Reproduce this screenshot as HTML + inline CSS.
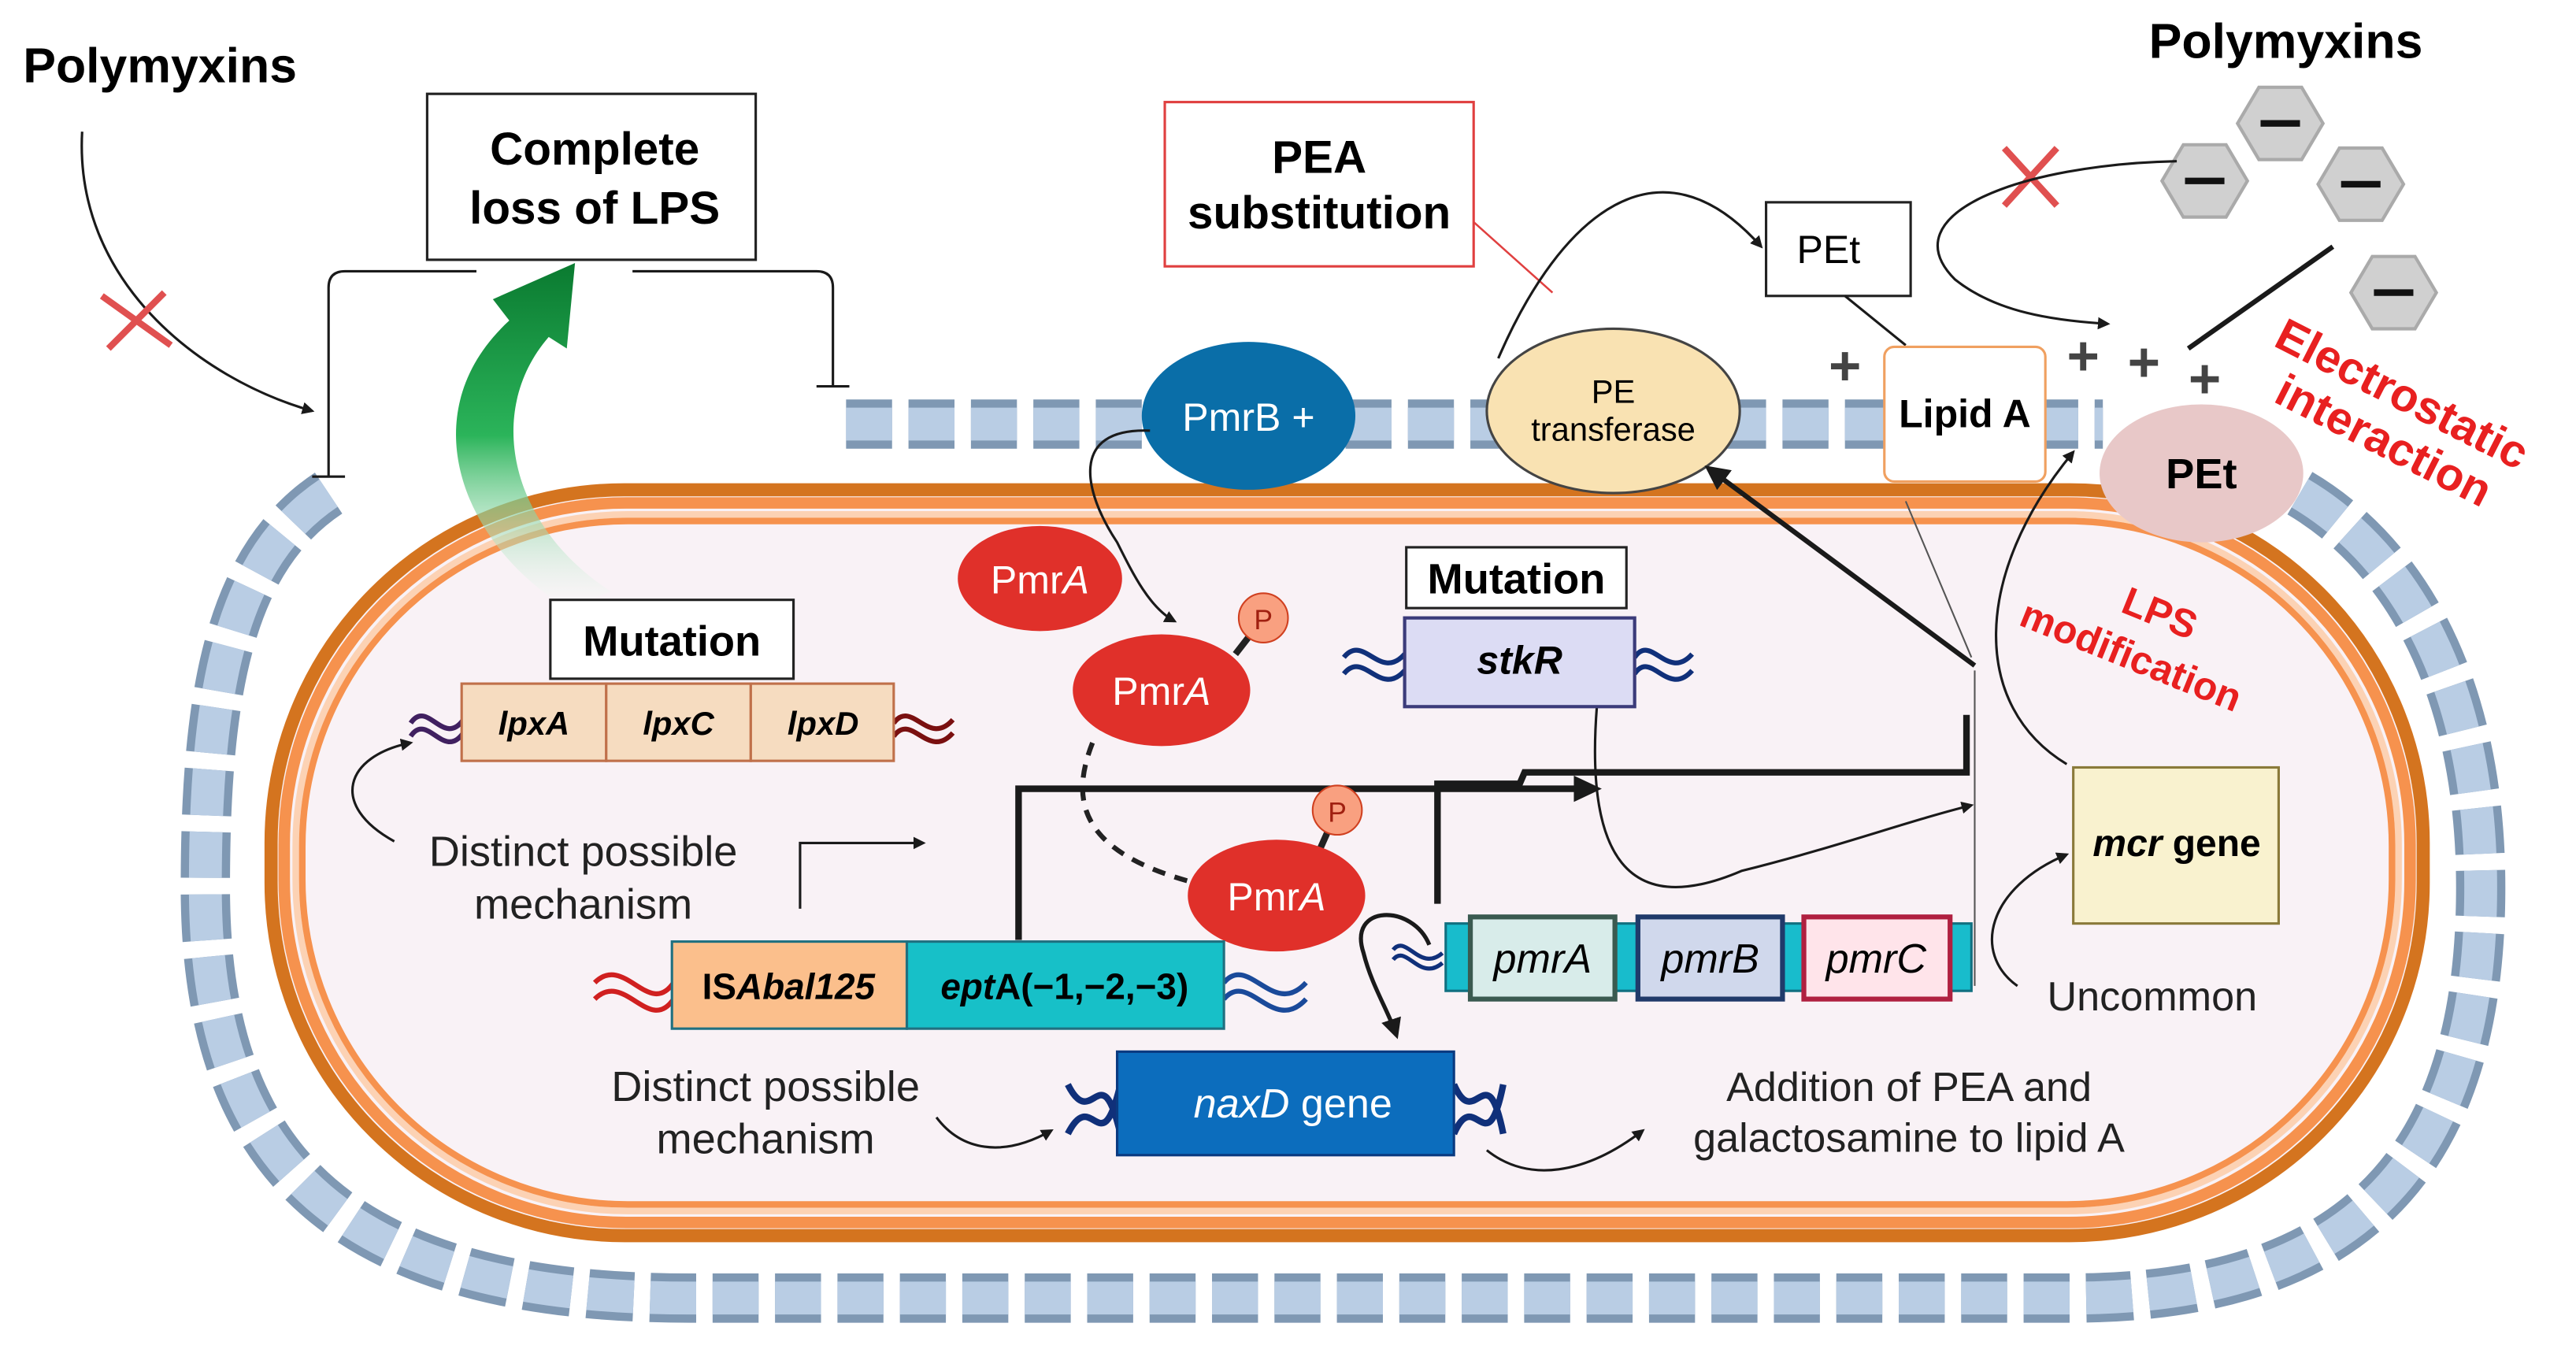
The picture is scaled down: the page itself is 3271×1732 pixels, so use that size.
<!DOCTYPE html>
<html><head><meta charset="utf-8"><style>
html,body{margin:0;padding:0;background:#fff;}
svg{display:block;}
text{font-family:"Liberation Sans",sans-serif;}
</style></head><body>
<svg width="3271" height="1732" viewBox="0 0 1568 830" xmlns="http://www.w3.org/2000/svg">
<defs>
<marker id="ah" viewBox="0 0 10 10" refX="8" refY="5" markerWidth="5" markerHeight="5" orient="auto-start-reverse"><path d="M0,0 L10,5 L0,10 z" fill="#1a1a1a"/></marker>
<linearGradient id="gg" x1="0" y1="1" x2="0" y2="0"><stop offset="0" stop-color="#fff" stop-opacity="0.2"/><stop offset="0.5" stop-color="#2bb45a"/><stop offset="1" stop-color="#0a7a30"/></linearGradient>
</defs>
<rect width="1568" height="830" fill="#fff"/>

<path d="M200,300 C140,340 125,420 125,540 C125,700 200,790 420,790 L1260,790 C1440,790 1510,700 1510,540 C1510,400 1450,320 1380,290" fill="none" stroke="#7f98b3" stroke-width="30" stroke-dasharray="28 10"/>
<path d="M200,300 C140,340 125,420 125,540 C125,700 200,790 420,790 L1260,790 C1440,790 1510,700 1510,540 C1510,400 1450,320 1380,290" fill="none" stroke="#b9cde4" stroke-width="20" stroke-dasharray="28 10"/>
<path d="M515,258 L1280,258" stroke="#7f98b3" stroke-width="30" stroke-dasharray="28 10"/>
<path d="M515,258 L1280,258" stroke="#b9cde4" stroke-width="20" stroke-dasharray="28 10"/>

<rect x="165" y="298" width="1310" height="454" rx="215" fill="#f9f2f6" stroke="#d4741f" stroke-width="8"/>
<rect x="173" y="306" width="1294" height="438" rx="208" fill="none" stroke="#f6924e" stroke-width="7"/>
<rect x="180" y="313" width="1280" height="424" rx="202" fill="none" stroke="#fcd2b4" stroke-width="4"/>
<rect x="184" y="317" width="1272" height="416" rx="198" fill="#f9f2f6" stroke="#f6924e" stroke-width="4"/>

<text x="14" y="50" font-size="30" font-weight="bold">Polymyxins</text>
<path d="M50,80 C45,170 120,230 190,250" fill="none" stroke="#1a1a1a" stroke-width="1.5" marker-end="url(#ah)"/>
<path d="M62,180 L104,210 M66,212 L100,178" stroke="#e05050" stroke-width="4"/>

<rect x="260" y="57" width="200" height="101" fill="#fff" stroke="#222" stroke-width="1.5"/>
<text x="362" y="100" font-size="28" font-weight="bold" text-anchor="middle">Complete</text>
<text x="362" y="136" font-size="28" font-weight="bold" text-anchor="middle">loss of LPS</text>
<path d="M200,290 L200,175 Q200,165 210,165 L290,165 M385,165 L497,165 Q507,165 507,175 L507,235" fill="none" stroke="#1a1a1a" stroke-width="1.5"/>
<path d="M190,290 L210,290 M497,235 L517,235" stroke="#1a1a1a" stroke-width="1.5"/>

<path d="M345,370 C280,330 250,250 310,195 L300,182 L350,160 L345,212 L334,205 C295,250 310,320 372,360 Z" fill="url(#gg)"/>

<rect x="709" y="62" width="188" height="100" fill="#fff" stroke="#e04040" stroke-width="1.5"/>
<text x="803" y="105" font-size="28" font-weight="bold" text-anchor="middle">PEA</text>
<text x="803" y="139" font-size="28" font-weight="bold" text-anchor="middle">substitution</text>
<path d="M897,135 L945,178" stroke="#e04040" stroke-width="1.2"/>
<path d="M912,218 C950,130 1010,80 1072,150" fill="none" stroke="#1a1a1a" stroke-width="1.5" marker-end="url(#ah)"/>
<rect x="1075" y="123" width="88" height="57" fill="#fff" stroke="#222" stroke-width="1.5"/>
<text x="1113" y="160" font-size="24" text-anchor="middle">PEt</text>
<path d="M1123,180 L1160,210" stroke="#1a1a1a" stroke-width="1.5"/>

<ellipse cx="760" cy="253" rx="65" ry="45" fill="#0a6ea8"/>
<text x="760" y="262" font-size="24" fill="#fff" text-anchor="middle">PmrB +</text>
<ellipse cx="982" cy="250" rx="77" ry="50" fill="#f9e2b2" stroke="#444" stroke-width="1.5"/>
<text x="982" y="245" font-size="20" text-anchor="middle">PE</text>
<text x="982" y="268" font-size="20" text-anchor="middle">transferase</text>
<rect x="1147" y="211" width="98" height="82" rx="6" fill="#fff" stroke="#f0a060" stroke-width="1.5"/>
<text x="1196" y="260" font-size="24" font-weight="bold" text-anchor="middle">Lipid A</text>
<ellipse cx="1340" cy="288" rx="62" ry="42" fill="#e8c8c8"/>
<text x="1340" y="297" font-size="26" font-weight="bold" text-anchor="middle">PEt</text>
<g font-size="34" font-weight="bold" fill="#444" text-anchor="middle">
<text x="1123" y="234">+</text><text x="1268" y="228">+</text><text x="1305" y="232">+</text><text x="1342" y="242">+</text></g>

<text x="1308" y="35" font-size="30" font-weight="bold">Polymyxins</text>
<g fill="#d0d0d0" stroke="#aaa" stroke-width="2">
<polygon points="1362,75 1375,53 1401,53 1414,75 1401,97 1375,97"/>
<polygon points="1316,110 1329,88 1355,88 1368,110 1355,132 1329,132"/>
<polygon points="1411,112 1424,90 1450,90 1463,112 1450,134 1424,134"/>
<polygon points="1431,178 1444,156 1470,156 1483,178 1470,200 1444,200"/>
</g>
<g stroke="#111" stroke-width="4"><path d="M1376,75 L1400,75 M1330,110 L1354,110 M1425,112 L1449,112 M1445,178 L1469,178"/></g>
<path d="M1220,90 L1252,125 M1220,125 L1252,90" stroke="#e05050" stroke-width="4"/>
<path d="M1325,98 C1230,100 1150,130 1190,170 C1215,190 1250,195 1283,197" fill="none" stroke="#1a1a1a" stroke-width="1.5" marker-end="url(#ah)"/>
<path d="M1420,150 L1332,212" stroke="#1a1a1a" stroke-width="3"/>
<text transform="translate(1383,210) rotate(27)" font-size="28" font-weight="bold" fill="#e82020">Electrostatic</text>
<text transform="translate(1383,244) rotate(27)" font-size="28" font-weight="bold" fill="#e82020">interaction</text>
<text transform="translate(1290,372) rotate(22)" font-size="24" font-weight="bold" fill="#e82020">LPS</text>
<text transform="translate(1228,380) rotate(22)" font-size="24" font-weight="bold" fill="#e82020">modification</text>

<path d="M700,262 C650,260 660,300 680,330 C690,350 700,370 715,378" fill="none" stroke="#1a1a1a" stroke-width="1.5" marker-end="url(#ah)"/>
<ellipse cx="633" cy="352" rx="50" ry="32" fill="#e0302a"/>
<text x="633" y="361" font-size="24" fill="#fff" text-anchor="middle">Pmr<tspan font-style="italic">A</tspan></text>
<path d="M752,398 L766,380" stroke="#222" stroke-width="4"/>
<circle cx="769" cy="376" r="15" fill="#f9a080" stroke="#d04020"/>
<text x="769" y="383" font-size="17" fill="#a02010" text-anchor="middle">P</text>
<ellipse cx="707" cy="420" rx="54" ry="34" fill="#e0302a"/>
<text x="707" y="429" font-size="24" fill="#fff" text-anchor="middle">Pmr<tspan font-style="italic">A</tspan></text>
<path d="M665,452 C650,490 660,520 730,538" fill="none" stroke="#222" stroke-width="3" stroke-dasharray="8 6"/>

<path d="M620,572 L620,480 L960,480" fill="none" stroke="#1a1a1a" stroke-width="4"/>
<path d="M958,472 L975,480 L958,488 Z" fill="#1a1a1a"/>
<path d="M875,550 L875,477 L925,477 L928,470 L1197,470 L1197,435" fill="none" stroke="#1a1a1a" stroke-width="4"/>
<path d="M1202,405 L1040,285" stroke="#1a1a1a" stroke-width="3" marker-end="url(#ah)"/>
<path d="M1202,408 L1202,600" stroke="#555" stroke-width="1"/>
<path d="M1160,305 L1200,400" stroke="#555" stroke-width="1"/>
<path d="M972,430 C965,520 990,560 1060,530 C1120,515 1160,500 1200,490" fill="none" stroke="#1a1a1a" stroke-width="1.5" marker-end="url(#ah)"/>

<path d="M814,493 L802,520" stroke="#222" stroke-width="4"/>
<circle cx="814" cy="493" r="15" fill="#f9a080" stroke="#d04020"/>
<text x="814" y="500" font-size="17" fill="#a02010" text-anchor="middle">P</text>
<ellipse cx="777" cy="545" rx="54" ry="34" fill="#e0302a"/>
<text x="777" y="554" font-size="24" fill="#fff" text-anchor="middle">Pmr<tspan font-style="italic">A</tspan></text>

<rect x="856" y="333" width="134" height="37" fill="#fff" stroke="#222" stroke-width="1.5"/>
<text x="923" y="361" font-size="26" font-weight="bold" text-anchor="middle">Mutation</text>
<path d="M818,400 C830,385 840,415 855,398 M818,410 C830,395 840,425 855,408" stroke="#10307a" stroke-width="3" fill="none"/>
<path d="M995,400 C1005,385 1015,415 1030,398 M995,410 C1005,395 1015,425 1030,408" stroke="#10307a" stroke-width="3" fill="none"/>
<rect x="855" y="376" width="140" height="54" fill="#dcdcf4" stroke="#3b3b7a" stroke-width="2"/>
<text x="925" y="410" font-size="24" font-weight="bold" font-style="italic" text-anchor="middle">stkR</text>

<rect x="335" y="365" width="148" height="48" fill="#fff" stroke="#222" stroke-width="1.5"/>
<text x="409" y="399" font-size="26" font-weight="bold" text-anchor="middle">Mutation</text>
<path d="M250,440 C260,425 270,455 282,438 M250,448 C260,433 270,463 282,446" stroke="#402060" stroke-width="3" fill="none"/>
<path d="M544,440 C555,425 565,455 580,438 M544,448 C555,433 565,463 580,446" stroke="#7a1010" stroke-width="3" fill="none"/>
<rect x="281" y="416" width="88" height="47" fill="#f6dcc0" stroke="#c0704a" stroke-width="1.5"/>
<rect x="369" y="416" width="88" height="47" fill="#f6dcc0" stroke="#c0704a" stroke-width="1.5"/>
<rect x="457" y="416" width="87" height="47" fill="#f6dcc0" stroke="#c0704a" stroke-width="1.5"/>
<g font-size="20" font-weight="bold" font-style="italic" text-anchor="middle"><text x="325" y="447">lpxA</text><text x="413" y="447">lpxC</text><text x="501" y="447">lpxD</text></g>
<path d="M240,512 C200,490 210,460 250,452" fill="none" stroke="#1a1a1a" stroke-width="1.5" marker-end="url(#ah)"/>
<text x="355" y="527" font-size="26" fill="#222" text-anchor="middle">Distinct possible</text>
<text x="355" y="559" font-size="26" fill="#222" text-anchor="middle">mechanism</text>
<path d="M487,553 L487,513 L562,513" fill="none" stroke="#1a1a1a" stroke-width="1.5" marker-end="url(#ah)"/>

<path d="M362,598 C380,580 395,620 410,598 M362,608 C380,590 395,630 410,608" stroke="#d02020" stroke-width="3" fill="none"/>
<path d="M745,598 C760,580 775,620 795,598 M745,608 C760,590 775,630 795,608" stroke="#1a4a9a" stroke-width="3" fill="none"/>
<rect x="409" y="573" width="143" height="53" fill="#fbbf8c" stroke="#207080" stroke-width="1.5"/>
<rect x="552" y="573" width="193" height="53" fill="#17c0c8" stroke="#207080" stroke-width="1.5"/>
<text x="480" y="608" font-size="22" font-weight="bold" text-anchor="middle">IS<tspan font-style="italic">Abal125</tspan></text>
<text x="648" y="608" font-size="22" font-weight="bold" text-anchor="middle"><tspan font-style="italic">ept</tspan>A(−1,−2,−3)</text>

<path d="M870,575 C860,550 820,550 830,580 C835,600 845,615 850,630" fill="none" stroke="#1a1a1a" stroke-width="2.5" marker-end="url(#ah)"/>
<path d="M848,578 C856,568 864,592 878,580 M848,584 C856,574 864,598 878,586" stroke="#10307a" stroke-width="2.5" fill="none"/>
<rect x="880" y="562" width="320" height="41" fill="#18bccc" stroke="#107080" stroke-width="1.5"/>
<rect x="895" y="558" width="88" height="50" fill="#d8ecea" stroke="#3a5a50" stroke-width="3"/>
<rect x="997" y="558" width="88" height="50" fill="#d0d8ec" stroke="#203a6a" stroke-width="3"/>
<rect x="1098" y="558" width="89" height="50" fill="#ffe4ea" stroke="#b02040" stroke-width="3"/>
<g font-size="25" font-style="italic" text-anchor="middle"><text x="939" y="592">pmrA</text><text x="1041" y="592">pmrB</text><text x="1142" y="592">pmrC</text></g>

<path d="M650,660 C665,690 670,640 682,690 M650,690 C665,660 670,710 682,660" stroke="#10307a" stroke-width="4" fill="none"/>
<path d="M885,660 C898,690 905,640 915,690 M885,690 C898,660 905,710 915,660" stroke="#10307a" stroke-width="4" fill="none"/>
<rect x="680" y="640" width="205" height="63" fill="#0c6dbd" stroke="#0a3a80" stroke-width="1.5"/>
<text x="787" y="680" font-size="25" fill="#fff" text-anchor="middle"><tspan font-style="italic">naxD</tspan> gene</text>
<text x="466" y="670" font-size="26" fill="#222" text-anchor="middle">Distinct possible</text>
<text x="466" y="702" font-size="26" fill="#222" text-anchor="middle">mechanism</text>
<path d="M570,680 C585,700 610,705 640,688" fill="none" stroke="#1a1a1a" stroke-width="1.5" marker-end="url(#ah)"/>
<path d="M905,700 C930,720 965,715 1000,688" fill="none" stroke="#1a1a1a" stroke-width="1.5" marker-end="url(#ah)"/>
<text x="1162" y="670" font-size="25" fill="#222" text-anchor="middle">Addition of PEA and</text>
<text x="1162" y="701" font-size="25" fill="#222" text-anchor="middle">galactosamine to lipid A</text>

<rect x="1262" y="467" width="125" height="95" fill="#f9f2cf" stroke="#8a7a3a" stroke-width="1.5"/>
<text x="1325" y="521" font-size="23" font-weight="bold" text-anchor="middle"><tspan font-style="italic">mcr</tspan> gene</text>
<path d="M1258,465 C1200,430 1200,350 1262,275" fill="none" stroke="#1a1a1a" stroke-width="1.5" marker-end="url(#ah)"/>
<path d="M1228,600 C1200,580 1210,540 1258,520" fill="none" stroke="#1a1a1a" stroke-width="1.5" marker-end="url(#ah)"/>
<text x="1310" y="615" font-size="25" fill="#222" text-anchor="middle">Uncommon</text>
</svg>
</body></html>
